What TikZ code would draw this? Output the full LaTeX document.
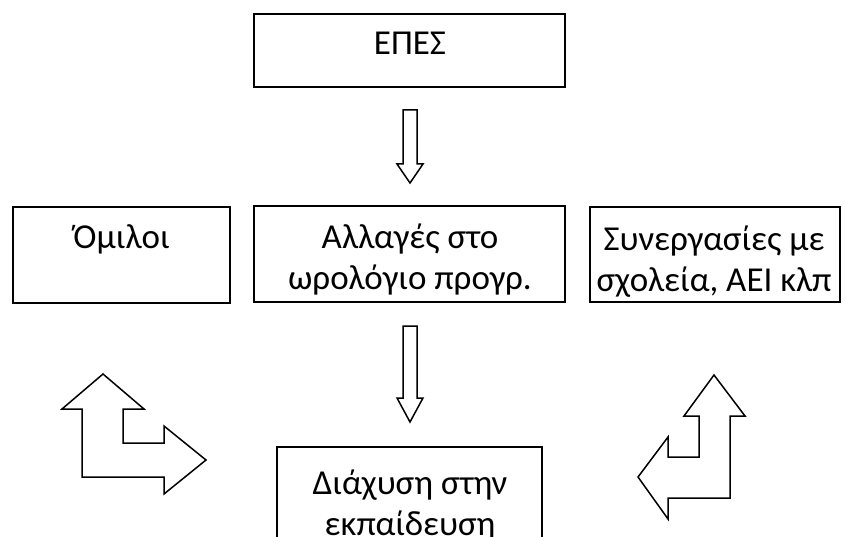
\documentclass[tikz,border=0pt]{standalone}
\usepackage{fontspec}
\setmainfont{Carlito}
\begin{document}
\begin{tikzpicture}[x=1pt, y=-1pt, line width=1.5pt,
  box/.style={draw, rectangle, inner sep=0pt},
  txt/.style={anchor=base, align=center, inner sep=0pt, font=\fontsize{35pt}{41pt}\selectfont}]
\useasboundingbox (0,0) rectangle (845,537);
\clip (0,0) rectangle (845,537);
% boxes
\node [box, minimum width=311, minimum height=73] (epes) at (409.5,50.5) {};
\node [box, minimum width=217, minimum height=96] (omiloi) at (121.5,255) {};
\node [box, minimum width=311, minimum height=96] (allages) at (409.5,254) {};
\node [box, minimum width=250, minimum height=95] (synerg) at (715,254.5) {};
\node [box, minimum width=265, minimum height=120] (diax) at (409.5,507) {};
% texts (base = last line)
\node [txt] (epestxt) at (410,55) {ΕΠΕΣ};
\node [txt] (omiloitxt) at (121.5,248) {Όμιλοι};
\node [txt] (allagestxt) at (410,289) {Αλλαγές στο\\ωρολόγιο προγρ.};
\node [txt] (synergtxt) at (714,291) {Συνεργασίες με\\σχολεία, ΑΕΙ κλπ};
\node [txt] (diaxtxt) at (410,535) {Διάχυση στην\\εκπαίδευση};
% down arrows
\draw (403,110) -- (417,110) -- (417,164) -- (423,164) -- (410,183)
  -- (397,164) -- (403,164) -- cycle;
\draw (403,326) -- (417,326) -- (417,398) -- (423,398) -- (410,422)
  -- (397,398) -- (403,398) -- cycle;
% bent arrows
\draw (103,374) -- (144,409) -- (123,409) -- (123,443) -- (164,443)
  -- (164,426) -- (206,460) -- (164,494) -- (164,477) -- (82,477)
  -- (82,409) -- (62,409) -- cycle;
\draw (714,375) -- (745,416) -- (730,416) -- (730,498) -- (668,498)
  -- (668,519) -- (638,477) -- (668,437) -- (668,457) -- (699,457)
  -- (699,416) -- (684,416) -- cycle;
\end{tikzpicture}
\end{document}
